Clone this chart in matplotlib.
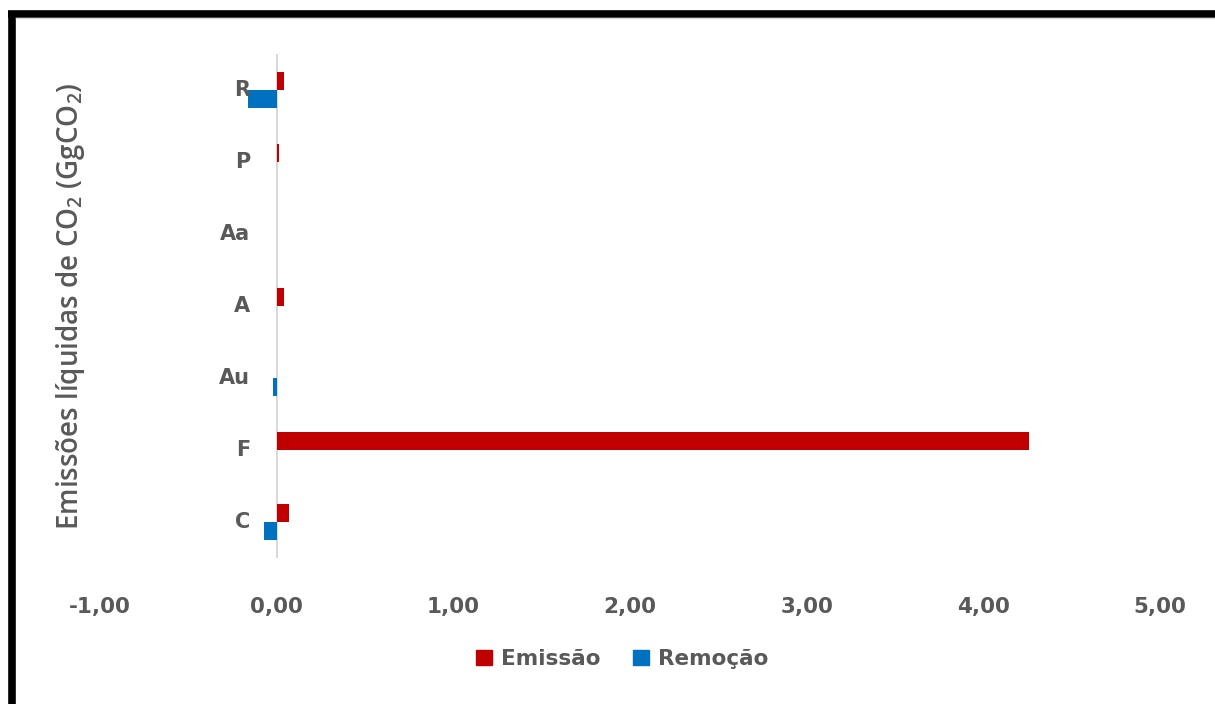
import matplotlib.pyplot as plt
from matplotlib.lines import Line2D
from matplotlib.patches import Patch
import numpy as np

# Emissões e remoções líquidas por categoria (GgCO2)
categorias = ['C', 'F', 'Au', 'A', 'Aa', 'P', 'R']
emissao = [0.07, 4.26, 0.0, 0.04, 0.0, 0.012, 0.04]
remocao = [-0.07, 0.0, -0.02, 0.0, 0.0, 0.0, -0.165]
ticks_x = [-1, 0, 1, 2, 3, 4, 5]

COR_EMISSAO = '#C00000'
COR_REMOCAO = '#0070C0'
CINZA = '#595959'

plt.rcParams['mathtext.fontset'] = 'custom'
plt.rcParams['mathtext.rm'] = 'Open Sans:semibold'
plt.rcParams['mathtext.it'] = 'Open Sans:semibold'


def run():
    fig = plt.figure(figsize=(12.15, 7.04), dpi=100)
    ax = fig.add_axes([0.0823, 0.2074, 0.8724, 0.7156])

    y = np.arange(len(categorias))
    h = 0.25
    ax.barh(y + h / 2, emissao, height=h, color=COR_EMISSAO, label='Emissão', zorder=2)
    ax.barh(y - h / 2, remocao, height=h, color=COR_REMOCAO, label='Remoção', zorder=2)
    ax.axvline(0, color='#D9D9D9', lw=1.5, zorder=1)

    ax.set_xlim(-1, 5)
    ax.set_ylim(-0.5, len(categorias) - 0.5)
    ax.set_xticks(ticks_x)
    ax.set_xticklabels([f'{t:.2f}'.replace('.', ',') for t in ticks_x],
                       fontsize=15.5, fontweight='bold', color=CINZA)
    ax.tick_params(axis='x', length=0, pad=28)
    ax.set_yticks([])
    for s in ax.spines.values():
        s.set_visible(False)

    # rótulos das categorias ao lado do eixo vertical (x = 0)
    for yi, nome in zip(y, categorias):
        ax.annotate(nome, xy=(0, yi), xytext=(-19, 0), textcoords='offset points',
                    ha='right', va='center', fontsize=15, fontweight='bold', color=CINZA)

    fig.text(0.058, 0.565, r'Emissões líquidas de CO$_2$ (GgCO$_2$)', rotation=90,
             ha='center', va='center', fontsize=20, family='Open Sans',
             fontweight='semibold', color=CINZA)

    handles = [Patch(color=COR_EMISSAO, label='Emissão'),
               Patch(color=COR_REMOCAO, label='Remoção')]
    fig.legend(handles=handles, loc='center', bbox_to_anchor=(0.512, 0.064), ncol=2,
               frameon=False, handlelength=0.75, handleheight=0.75, handletextpad=0.4,
               columnspacing=1.5, prop={'size': 15.5, 'weight': 'bold'}, labelcolor=CINZA)

    # moldura da imagem: borda preta à esquerda e em cima
    fig.add_artist(Line2D([0.0099, 0.0099], [0, 0.984], color='black', lw=5.5,
                          transform=fig.transFigure, solid_capstyle='butt'))
    fig.add_artist(Line2D([0.0066, 1], [0.980, 0.980], color='black', lw=5.5,
                          transform=fig.transFigure, solid_capstyle='butt'))
    fig.add_artist(Line2D([0.0135, 1], [0.974, 0.974], color='#D9D9D9', lw=1,
                          transform=fig.transFigure))

    fig.savefig('out.png', dpi=100)


if __name__ == '__main__':
    run()
